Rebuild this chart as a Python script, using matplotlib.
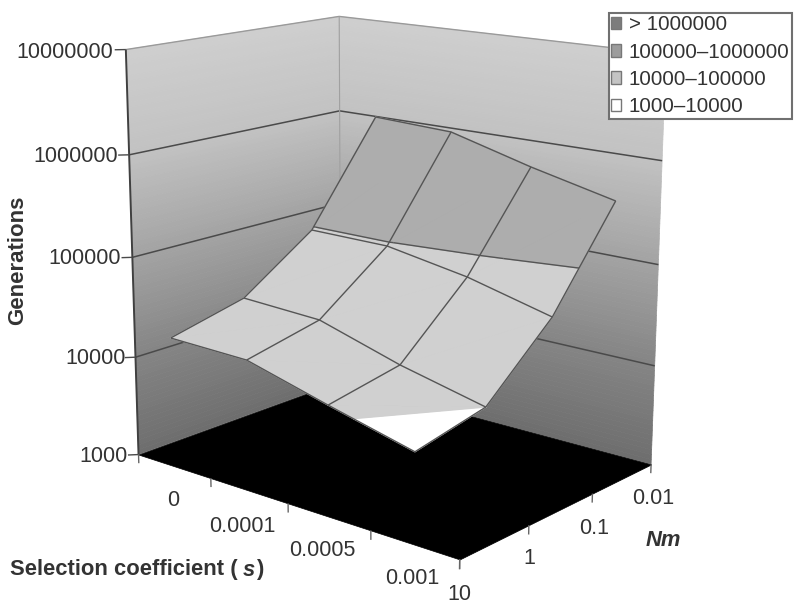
import numpy as np
import matplotlib
matplotlib.use("Agg")
import matplotlib.pyplot as plt
from matplotlib.patches import Patch
from mpl_toolkits.mplot3d import Axes3D
from mpl_toolkits.mplot3d.art3d import Poly3DCollection, Line3DCollection

plt.rcParams['font.family'] = ['Liberation Sans', 'DejaVu Sans']

# ---------- data ----------
s_labels = ['0', '0.0001', '0.0005', '0.001']
nm_labels = ['10', '1', '0.1', '0.01']
z_labels = ['1000', '10000', '100000', '1000000', '10000000']
band_labels = ['> 1000000', '100000\u20131000000', '10000\u2013100000', '1000\u201310000']
band_colors = ['#7c7c7c', '#9c9c9c', '#c4c4c4', '#ffffff']
# generations, rows: Nm = 10, 1, 0.1, 0.01; columns: s = 0, 0.0001, 0.0005, 0.001
gen_nm10 = [19600, 18900, 11500, 7200]
gen_nm1 = [29500, 27200, 15500, 10000]
gen_nm01 = [93600, 92700, 66900, 41300]
gen_nm001 = [986000, 912000, 544000, 348000]
generations = np.array([gen_nm10, gen_nm1, gen_nm01, gen_nm001], float)

TEXT = '#333333'
LINE = '#4a4a4a'

# camera of the reference picture (world: s band 0-4, Nm 0-4, decades above 1000)
CAMERA = np.array([
    [65.529539, 60.350924, -4.769341, 138.526432],
    [8.250969, -7.396291, -101.877101, 454.557669],
    [0.0, 0.0, 0.0, 1.0],
    [-0.032115, 0.028642, -0.012685, 1.0]])
W, H = 800, 613

fig = plt.figure(figsize=(W / 100, H / 100), dpi=100)
ax = fig.add_axes([0, 0, 1, 1], projection='3d')
ax.set_axis_off()
ax.computed_zorder = False
ax.get_proj = lambda: CAMERA
ax.apply_aspect = lambda *a, **k: None
ax.viewLim.intervalx = (0, W)
ax.viewLim.intervaly = (H, 0)
ax.patch.set_alpha(0)

s_pos = np.arange(len(s_labels)) + 0.5
nm_pos = np.arange(len(nm_labels)) * 4 / 3
logz = np.log10(generations) - 3


def lines(segments, color, lw, zorder):
    ax.add_collection3d(Line3DCollection(segments, colors=color, linewidths=lw, zorder=zorder))


def wall_gray(z):
    return np.interp(z, [0, 1, 2, 3, 4], [0.43, 0.52, 0.64, 0.76, 0.81])


# walls with a vertical gradient
levels = np.linspace(0, 4, 81)
for (p0, p1) in [((0, 0), (0, 4)), ((0, 4), (4, 4))]:
    polys, cols = [], []
    for z0, z1 in zip(levels[:-1], levels[1:]):
        polys.append([(p0[0], p0[1], z0), (p1[0], p1[1], z0), (p1[0], p1[1], z1), (p0[0], p0[1], z1)])
        g = wall_gray((z0 + z1) / 2)
        cols.append((g, g, g))
    ax.add_collection3d(Poly3DCollection(polys, facecolors=cols, edgecolors=cols, linewidths=0.5, zorder=1))

# floor
ax.add_collection3d(Poly3DCollection([[(0, 0, 0), (4, 0, 0), (4, 4, 0), (0, 4, 0)]],
                                     facecolors='black', edgecolors='black', linewidths=0.5, zorder=2))

# wall gridlines
lines([[(0, 0, k), (0, 4, k), (4, 4, k)] for k in range(1, 4)], LINE, 1.1, 3)
lines([[(0, 0, 4), (0, 4, 4), (4, 4, 4)]], '#9a9a9a', 1.0, 3)
lines([[(0, 4, 0), (0, 4, 4)]], '#a0a0a0', 0.8, 3)
lines([[(0, 0, 0), (0, 0, 4)]], '#404040', 1.4, 3)

# axis ticks
lines([[(0, 0, k), (-0.07, -0.1, k)] for k in range(5)], LINE, 1, 3)
lines([[(a, 0, 0), (a, 0, -0.09)] for a in range(5)], '#666666', 1, 3)
lines([[(4, b, 0), (4, b, -0.09)] for b in nm_pos], '#666666', 1, 3)


# surface, cut into bands
def clip(tri, lo, hi):
    def cut(poly, keep_above, lev):
        out = []
        for i in range(len(poly)):
            p, q = np.array(poly[i]), np.array(poly[(i + 1) % len(poly)])
            pin = p[2] >= lev if keep_above else p[2] <= lev
            qin = q[2] >= lev if keep_above else q[2] <= lev
            if pin:
                out.append(p)
            if pin != qin:
                t = (lev - p[2]) / (q[2] - p[2])
                out.append(p + t * (q - p))
        return out
    poly = cut(tri, True, lo)
    if poly:
        poly = cut(poly, False, hi)
    return poly


bands = [(0, 1, '#ffffff'), (1, 2, '#d0d0d0'), (2, 3, '#adadad'), (3, 4, '#8a8a8a')]
tris = []
for i in range(3):
    for j in range(3):
        c = [(s_pos[j], nm_pos[i], logz[i, j]), (s_pos[j + 1], nm_pos[i], logz[i, j + 1]),
             (s_pos[j + 1], nm_pos[i + 1], logz[i + 1, j + 1]), (s_pos[j], nm_pos[i + 1], logz[i + 1, j])]
        tris += [[c[0], c[1], c[2]], [c[0], c[2], c[3]]]
polys, cols = [], []
for lo, hi, col in bands:
    for t in tris:
        p = clip(t, lo, hi)
        if len(p) >= 3:
            polys.append([tuple(v) for v in p])
            cols.append(col)
ax.add_collection3d(Poly3DCollection(polys, facecolors=cols, edgecolors=cols, linewidths=0.9, zorder=4))

# band boundary lines
contours = []
for lev in (1, 2):
    for t in tris:
        pts = []
        for m in range(3):
            p, q = np.array(t[m]), np.array(t[(m + 1) % 3])
            if (p[2] - lev) * (q[2] - lev) < 0:
                pts.append(tuple(p + (lev - p[2]) / (q[2] - p[2]) * (q - p)))
        if len(pts) == 2:
            contours.append(pts)
lines(contours, '#555555', 1.0, 5)

# surface mesh
mesh = [list(zip(s_pos, np.full(4, nm_pos[i]), logz[i])) for i in range(4)]
mesh += [list(zip(np.full(4, s_pos[j]), nm_pos, logz[:, j])) for j in range(4)]
lines(mesh, '#555555', 1.0, 6)


# text
def label(px, py, txt, **kw):
    kw.setdefault('fontsize', 15.5)
    kw.setdefault('color', TEXT)
    kw.setdefault('ha', 'center')
    kw.setdefault('va', 'center')
    fig.text(px / W, 1 - py / H, txt, **kw)


for txt, px, py in zip(z_labels, [128, 126, 121, 118, 113], [456, 358, 258, 156, 52]):
    label(px, py, txt, ha='right')
for txt, px, py in zip(s_labels, [173, 242, 322, 412], [501, 526, 550, 578]):
    label(px, py, txt)
for txt, px, py in zip(nm_labels, [459, 529, 594, 653], [595, 559, 528, 498]):
    label(px, py, txt)
label(18, 260, 'Generations', rotation=90, fontweight='bold', fontsize=16)
label(10, 570, 'Selection coefficient (', ha='left', fontweight='bold', fontsize=15.8)
label(243, 570, 's', ha='left', fontweight='bold', fontstyle='italic', fontsize=15.8)
label(257, 570, ')', ha='left', fontweight='bold', fontsize=15.8)
label(663, 541, 'Nm', fontweight='bold', fontstyle='italic', fontsize=15.8)

# legend
handles = [Patch(facecolor=c, edgecolor='#777777', linewidth=1) for c in band_colors]
leg = fig.legend(handles, band_labels, loc='upper left', bbox_to_anchor=(609 / W, 1 - 13 / H),
                 fontsize=14.8, frameon=True, fancybox=False, framealpha=1, edgecolor='#707070',
                 handlelength=0.45, handleheight=0.55, handletextpad=0.38, labelspacing=0.40,
                 borderpad=0.12, borderaxespad=0, labelcolor=TEXT)
leg.get_frame().set_linewidth(1.5)
leg.set_zorder(20)

fig.savefig('out.png', dpi=100)
